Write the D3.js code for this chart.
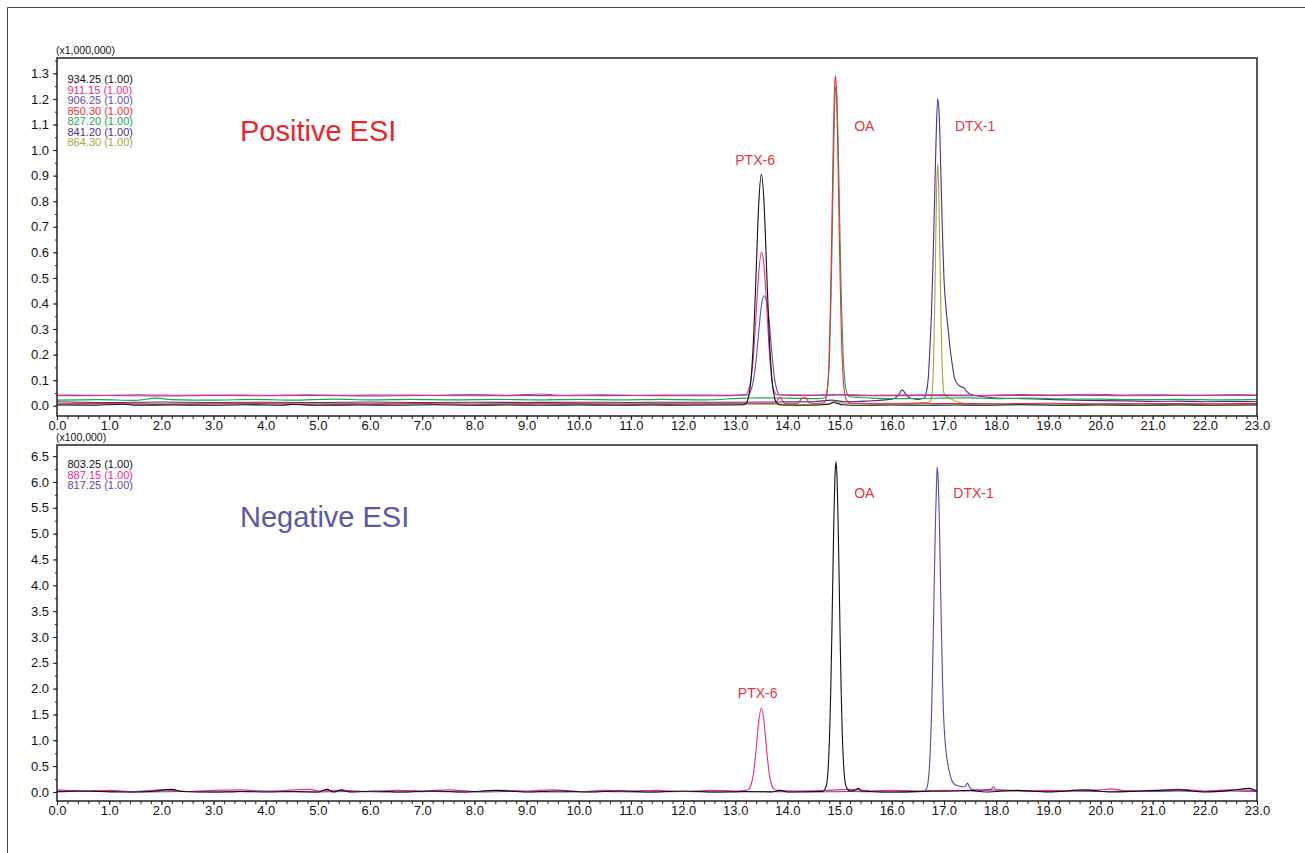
<!DOCTYPE html>
<html><head><meta charset="utf-8">
<script src="https://cdn.jsdelivr.net/npm/d3@7"></script>
<style>
body{margin:0;background:#fff}
svg{display:block}
text{font-family:Arial,"Liberation Sans",Helvetica,sans-serif}
</style>
</head><body>
<svg id="c" width="1305" height="853"></svg>
<script>
// ---------------- DATA ----------------
const xTickValues = [0,1,2,3,4,5,6,7,8,9,10,11,12,13,14,15,16,17,18,19,20,21,22,23];
const topYTicks = [0.0,0.1,0.2,0.3,0.4,0.5,0.6,0.7,0.8,0.9,1.0,1.1,1.2,1.3];
const botYTicks = [0.0,0.5,1.0,1.5,2.0,2.5,3.0,3.5,4.0,4.5,5.0,5.5,6.0,6.5];
const topUnit = "(x1,000,000)";
const botUnit = "(x100,000)";

// Positive ESI traces (intensity x1,000,000), [time(min), value]
const pos934 = [[0,0.003],[0.6,0.002],[1.3,0.006],[1.5,0.002],[2.2,0.003],[3,0.002],[3.6,0.004],[4.3,0.002],[4.5,0.005],[5,0.002],[5.8,0.003],[6.5,0.002],[7.2,0.004],[8,0.002],[8.6,0.003],[9.3,0.002],[10,0.003],[10.7,0.002],[11.4,0.003],[12,0.002],[12.7,0.003],[13.15,0.004],[13.2,0.008],[13.25,0.03],[13.3,0.1],[13.35,0.26],[13.4,0.52],[13.45,0.79],[13.5,0.905],[13.55,0.8],[13.6,0.54],[13.65,0.28],[13.7,0.11],[13.75,0.035],[13.8,0.01],[13.9,0.003],[14.4,0.002],[14.8,0.006],[14.88,0.013],[14.95,0.01],[15.05,0.004],[15.4,0.002],[16,0.003],[16.6,0.002],[17.2,0.003],[17.8,0.002],[18.5,0.004],[19.2,0.002],[20,0.003],[20.8,0.002],[21.5,0.003],[22.2,0.002],[23,0.003]];
const pos911 = [[0,0.042],[0.8,0.041],[1.6,0.043],[2.4,0.041],[3.2,0.042],[4,0.041],[4.8,0.043],[5.6,0.041],[6.4,0.042],[7.2,0.041],[8,0.044],[8.6,0.041],[9.3,0.046],[9.6,0.041],[10.4,0.043],[11.2,0.041],[12,0.042],[12.8,0.041],[13.2,0.044],[13.25,0.06],[13.3,0.1],[13.35,0.2],[13.4,0.36],[13.45,0.52],[13.5,0.6],[13.55,0.55],[13.6,0.4],[13.65,0.22],[13.7,0.1],[13.75,0.055],[13.8,0.043],[14.4,0.042],[15,0.044],[15.6,0.041],[16.4,0.042],[17,0.043],[17.8,0.041],[18.5,0.044],[19.2,0.042],[19.8,0.045],[20.5,0.042],[21.2,0.043],[22,0.041],[22.6,0.044],[23,0.042]];
const pos906 = [[0,0.039],[1,0.04],[2,0.038],[3,0.04],[4,0.039],[5,0.04],[6,0.038],[7,0.04],[8,0.039],[9,0.04],[10,0.039],[11,0.04],[12,0.039],[13,0.04],[13.25,0.042],[13.3,0.06],[13.35,0.1],[13.4,0.18],[13.45,0.29],[13.5,0.39],[13.55,0.43],[13.6,0.41],[13.65,0.33],[13.7,0.21],[13.75,0.11],[13.8,0.06],[13.85,0.042],[14.5,0.04],[15,0.042],[15.5,0.039],[16.5,0.04],[17.5,0.039],[18.5,0.04],[19.5,0.041],[20.5,0.039],[21.5,0.04],[22.5,0.041],[23,0.04]];
const pos850 = [[0,0.008],[1,0.009],[2,0.007],[3,0.008],[4,0.009],[5,0.007],[6,0.008],[7,0.009],[8,0.007],[9,0.008],[10,0.009],[11,0.007],[12,0.008],[13,0.008],[13.75,0.009],[13.82,0.025],[13.87,0.032],[13.93,0.012],[14.0,0.008],[14.2,0.01],[14.28,0.03],[14.35,0.032],[14.42,0.012],[14.55,0.009],[14.7,0.012],[14.74,0.03],[14.78,0.1],[14.8,0.2],[14.82,0.36],[14.84,0.57],[14.86,0.81],[14.88,1.05],[14.9,1.23],[14.92,1.29],[14.94,1.23],[14.96,1.06],[14.98,0.83],[15.0,0.6],[15.02,0.4],[15.04,0.24],[15.06,0.14],[15.08,0.075],[15.11,0.035],[15.16,0.015],[15.25,0.009],[16,0.008],[17,0.009],[18,0.008],[19,0.01],[20,0.008],[21,0.009],[22,0.008],[23,0.009]];
const pos827 = [[0,0.022],[0.8,0.024],[1.5,0.021],[1.9,0.03],[2.2,0.024],[3,0.022],[3.8,0.025],[4.5,0.022],[5.3,0.026],[6,0.023],[6.8,0.025],[7.6,0.023],[8.4,0.025],[9.2,0.023],[10,0.025],[10.8,0.023],[11.6,0.025],[12.4,0.023],[13.2,0.03],[13.5,0.031],[14,0.03],[14.6,0.028],[14.72,0.032],[14.76,0.06],[14.79,0.12],[14.81,0.22],[14.83,0.37],[14.85,0.57],[14.87,0.8],[14.89,1.03],[14.91,1.2],[14.93,1.25],[14.95,1.2],[14.97,1.05],[14.99,0.85],[15.01,0.64],[15.03,0.45],[15.05,0.3],[15.07,0.19],[15.1,0.1],[15.14,0.05],[15.2,0.035],[15.6,0.03],[16.2,0.028],[17,0.03],[17.5,0.031],[18,0.028],[18.6,0.03],[19.3,0.027],[20,0.026],[20.8,0.024],[21.5,0.025],[22.3,0.023],[23,0.024]];
const pos841 = [[0,0.016],[0.5,0.014],[1,0.013],[2,0.015],[3,0.013],[4,0.014],[5,0.013],[6,0.015],[7,0.013],[8,0.014],[9,0.013],[10,0.014],[11,0.013],[12,0.014],[13,0.014],[13.8,0.015],[14.5,0.016],[14.85,0.022],[14.95,0.02],[15.1,0.016],[15.5,0.018],[16.0,0.026],[16.12,0.04],[16.2,0.062],[16.27,0.045],[16.35,0.03],[16.5,0.025],[16.62,0.03],[16.66,0.05],[16.7,0.11],[16.73,0.22],[16.76,0.36],[16.79,0.56],[16.82,0.8],[16.85,1.05],[16.88,1.2],[16.91,1.13],[16.94,0.92],[16.97,0.68],[17.0,0.5],[17.04,0.38],[17.08,0.3],[17.12,0.22],[17.16,0.16],[17.2,0.11],[17.26,0.085],[17.32,0.075],[17.38,0.07],[17.44,0.055],[17.5,0.045],[17.6,0.04],[17.75,0.035],[18,0.03],[18.5,0.028],[19,0.025],[19.5,0.022],[20,0.02],[20.5,0.019],[21,0.017],[21.5,0.018],[22,0.016],[22.5,0.017],[23,0.016]];
const pos864 = [[0,0.006],[1,0.007],[2,0.006],[3,0.007],[4,0.006],[5,0.007],[6,0.006],[7,0.007],[8,0.006],[9,0.007],[10,0.006],[11,0.007],[12,0.006],[13,0.007],[14,0.006],[14.8,0.008],[14.9,0.017],[15.0,0.012],[15.2,0.009],[16,0.01],[16.5,0.012],[16.72,0.014],[16.76,0.03],[16.78,0.07],[16.8,0.17],[16.82,0.36],[16.84,0.61],[16.86,0.85],[16.88,0.946],[16.9,0.85],[16.92,0.62],[16.94,0.38],[16.96,0.19],[16.98,0.09],[17.0,0.05],[17.06,0.035],[17.15,0.025],[17.3,0.013],[17.5,0.008],[18,0.007],[19,0.006],[20,0.007],[21,0.006],[22,0.007],[23,0.006]];

// Negative ESI traces (intensity x100,000)
const neg803 = [[0,0.01],[0.4,0.02],[0.8,0.01],[1.2,0.0],[1.8,0.01],[2.2,0.05],[2.4,0.01],[3,0.0],[3.5,0.01],[4,0.0],[4.6,0.01],[5.0,0.0],[5.18,0.05],[5.3,0.0],[5.45,0.04],[5.6,0.0],[6.1,0.02],[6.6,0.0],[7.2,0.02],[7.8,0.0],[8.4,0.03],[9,0.0],[9.6,0.02],[10.2,0.0],[10.8,0.02],[11.4,0.0],[12,0.02],[12.6,0.0],[13.2,0.01],[13.7,0.0],[13.85,0.03],[14.0,0.0],[14.5,0.01],[14.68,0.01],[14.72,0.06],[14.75,0.14],[14.77,0.31],[14.79,0.63],[14.81,1.16],[14.83,1.95],[14.85,2.99],[14.87,4.17],[14.89,5.28],[14.91,6.09],[14.93,6.39],[14.95,6.09],[14.97,5.28],[14.99,4.17],[15.01,2.99],[15.03,1.95],[15.05,1.16],[15.07,0.65],[15.09,0.33],[15.11,0.16],[15.14,0.07],[15.2,0.02],[15.3,0.04],[15.36,0.07],[15.42,0.02],[15.6,0.01],[16,0.0],[16.6,0.01],[17.2,0.02],[17.5,0.03],[17.8,0.0],[18.4,0.03],[19,0.0],[19.7,0.04],[20.2,0.0],[20.8,0.02],[21.5,0.04],[22.0,0.0],[22.5,0.03],[22.85,0.07],[23,0.01]];
const neg887 = [[0,0.04],[0.5,0.02],[1,0.03],[1.5,0.01],[2,0.04],[2.5,0.01],[3,0.03],[3.5,0.04],[4,0.01],[4.85,0.05],[5.0,0.02],[5.5,0.03],[6,0.01],[6.5,0.03],[7,0.02],[7.5,0.04],[8,0.01],[8.5,0.03],[9,0.02],[9.5,0.04],[10,0.01],[10.5,0.03],[11,0.02],[11.5,0.03],[12,0.01],[12.5,0.03],[13,0.02],[13.2,0.03],[13.25,0.05],[13.3,0.13],[13.35,0.36],[13.4,0.83],[13.45,1.37],[13.5,1.62],[13.55,1.37],[13.6,0.83],[13.65,0.36],[13.7,0.13],[13.75,0.05],[13.8,0.03],[14.2,0.02],[14.8,0.03],[15.2,0.05],[15.6,0.02],[16,0.03],[16.5,0.02],[17,0.03],[17.5,0.02],[18,0.04],[18.5,0.02],[19,0.03],[19.5,0.02],[20,0.04],[20.2,0.06],[20.5,0.02],[21,0.03],[21.5,0.05],[22,0.02],[22.5,0.04],[23,0.03]];
const neg817 = [[0,0.0],[0.8,0.02],[1.6,0.0],[2.4,0.01],[3.2,0.0],[4,0.02],[4.8,0.0],[5.6,0.01],[6.4,0.0],[7.2,0.01],[8,0.0],[8.8,0.01],[9.6,0.0],[10.4,0.01],[11.2,0.0],[12,0.01],[12.8,0.0],[13.6,0.01],[14.4,0.0],[15.2,0.01],[16,0.0],[16.6,0.01],[16.66,0.05],[16.68,0.1],[16.7,0.23],[16.72,0.46],[16.74,0.85],[16.76,1.45],[16.78,2.27],[16.8,3.27],[16.82,4.36],[16.84,5.34],[16.86,6.04],[16.87,6.29],[16.89,6.05],[16.91,5.35],[16.93,4.3],[16.95,3.2],[16.97,2.25],[16.99,1.55],[17.02,1.0],[17.05,0.7],[17.09,0.45],[17.14,0.25],[17.2,0.15],[17.3,0.11],[17.4,0.1],[17.45,0.17],[17.5,0.08],[17.6,0.04],[17.9,0.05],[17.95,0.1],[18.0,0.04],[18.5,0.02],[19,0.01],[19.5,0.02],[20,0.01],[20.5,0.02],[21,0.01],[21.5,0.02],[22,0.01],[22.5,0.02],[23,0.01]];

const posLegend = ["934.25 (1.00)","911.15 (1.00)","906.25 (1.00)","850.30 (1.00)","827.20 (1.00)","841.20 (1.00)","864.30 (1.00)"];
const negLegend = ["803.25 (1.00)","887.15 (1.00)","817.25 (1.00)"];
const posColors = ["#111111","#ec2a8e","#6250a8","#ee2d3a","#1fa64e","#4a2d94","#a8a43a"];
const negColors = ["#111111","#ec2a8e","#5a4aa8"];
const posPeakLabels = [{t:"PTX-6",x:13.0,v:0.942},{t:"OA",x:15.28,v:1.074},{t:"DTX-1",x:17.21,v:1.074}];
const negPeakLabels = [{t:"PTX-6",x:13.05,v:1.813},{t:"OA",x:15.28,v:5.683},{t:"DTX-1",x:17.18,v:5.683}];

// ---------------- DRAW ----------------
const svg = d3.select("#c");
svg.append("path").attr("d","M7.5,853 V7.5 H1305").attr("fill","none").attr("stroke","#444").attr("stroke-width",1);

const x = d3.scaleLinear().domain([0,23]).range([57,1257]);

function panel(o){
  const y = d3.scaleLinear().domain(o.yDomain).range(o.yRange);
  const g = svg.append("g");
  const top = o.yRange[1], bot = o.yRange[0];
  const clipId = "clip"+o.id;
  svg.append("clipPath").attr("id",clipId).append("rect")
    .attr("x",x.range()[0]).attr("y",top).attr("width",x.range()[1]-x.range()[0]).attr("height",bot-top);
  // traces
  const line = d3.line().x(d=>x(d[0])).y(d=>y(d[1])).curve(d3.curveMonotoneX);
  const lg = g.append("g").attr("clip-path",`url(#${clipId})`);
  o.order.forEach(i=>{
    lg.append("path").datum(o.series[i]).attr("d",line).attr("fill","none")
      .attr("stroke",o.colors[i]).attr("stroke-width",1.1).attr("stroke-linejoin","round");
  });
  // frame
  g.append("rect").attr("x",x.range()[0]).attr("y",top).attr("width",x.range()[1]-x.range()[0]).attr("height",bot-top)
    .attr("fill","none").attr("stroke","#222").attr("stroke-width",1.5);
  // x axis
  const xMinor = [];
  for(let i=0;i<=115;i++){ xMinor.push(i/5); }
  const xa = g.append("g").attr("transform",`translate(0,${bot})`)
    .call(d3.axisBottom(x).tickValues(xMinor).tickSize(3).tickSizeOuter(0).tickFormat(""));
  xa.select(".domain").remove();
  const xb = g.append("g").attr("transform",`translate(0,${bot})`)
    .call(d3.axisBottom(x).tickValues(xTickValues).tickSize(4).tickSizeOuter(0).tickFormat(d3.format(".1f")));
  xb.select(".domain").remove();
  xb.selectAll("text").attr("font-size",13).attr("fill","#111").attr("dy","0.71em").attr("y",o.xLabelOff);
  [xa,xb].forEach(a=>a.selectAll("line").attr("stroke","#222"));
  // y axis
  const ya = g.append("g").attr("transform",`translate(${x.range()[0]},0)`)
    .call(d3.axisLeft(y).tickValues(o.yMinor).tickSize(2).tickSizeOuter(0).tickFormat(""));
  ya.select(".domain").remove();
  const yb = g.append("g").attr("transform",`translate(${x.range()[0]},0)`)
    .call(d3.axisLeft(y).tickValues(o.yTicks).tickSize(4).tickSizeOuter(0).tickFormat(d3.format(".1f")));
  yb.select(".domain").remove();
  yb.selectAll("text").attr("font-size",13).attr("fill","#111").attr("x",-8);
  [ya,yb].forEach(a=>a.selectAll("line").attr("stroke","#222"));
  // unit
  g.append("text").attr("x",56).attr("y",top-4).attr("font-size",10.5).attr("fill","#111").text(o.unit);
  // legend
  o.legend.forEach((t,i)=>{
    g.append("text").attr("x",67.5).attr("y",top+o.legendY0+i*10.45).attr("font-size",11)
      .attr("fill",o.colors[i]).text(t);
  });
  // peak labels
  o.peaks.forEach(p=>{
    g.append("text").attr("x",x(p.x)).attr("y",y(p.v)).attr("text-anchor","start")
      .attr("font-size",14).attr("fill","#e8343f").text(p.t);
  });
  // title
  g.append("text").attr("x",240).attr("y",o.titleY).attr("font-size",29).attr("fill",o.titleColor).text(o.title);
}

panel({id:"p",yDomain:[-0.04,1.36],yRange:[416,58],yTicks:topYTicks,xLabelOff:4.5,
  yMinor:d3.range(0,1.36,0.05),unit:topUnit,
  series:[pos934,pos911,pos906,pos850,pos827,pos841,pos864],colors:posColors,order:[6,5,4,3,2,1,0],
  legend:posLegend,legendY0:25.3,peaks:posPeakLabels,title:"Positive ESI",titleY:141,titleColor:"#e8262e"});
panel({id:"n",yDomain:[-0.175,6.715],yRange:[801,445],yTicks:botYTicks,xLabelOff:5.2,
  yMinor:d3.range(0,6.7,0.25),unit:botUnit,
  series:[neg803,neg887,neg817],colors:negColors,order:[2,1,0],
  legend:negLegend,legendY0:23.3,peaks:negPeakLabels,title:"Negative ESI",titleY:527,titleColor:"#5a58a8"});
</script>
</body></html>
